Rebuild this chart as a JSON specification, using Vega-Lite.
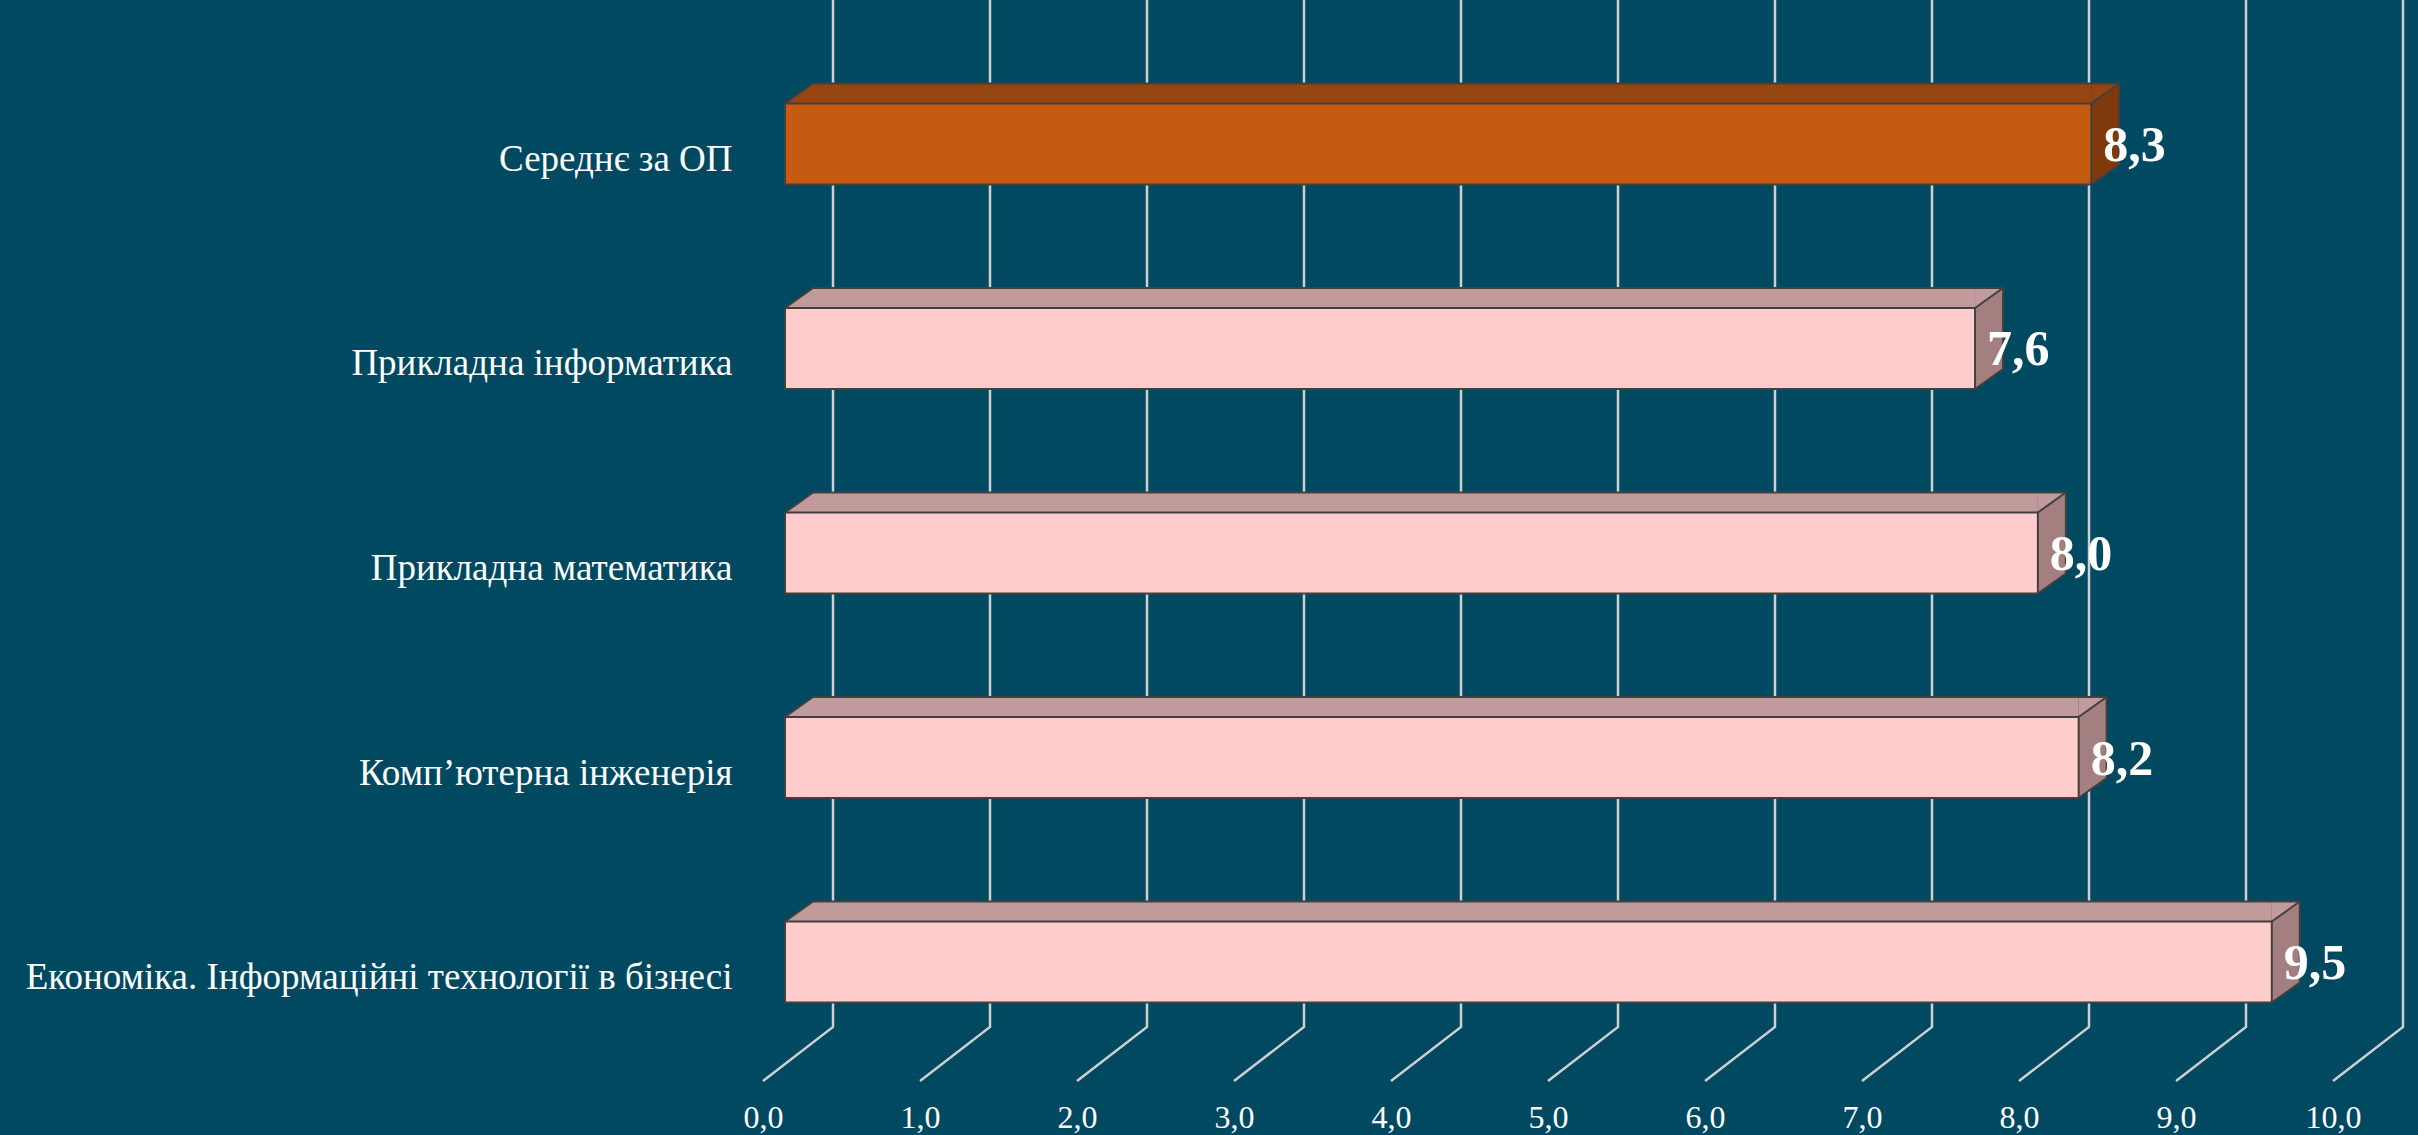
{
  "$schema": "https://vega.github.io/schema/vega-lite/v6.json",
  "width": 1570,
  "height": 1106,
  "autosize": {"type": "none"},
  "padding": {"left": 785, "right": 63, "top": 0, "bottom": 29},
  "background": "#014961",
  "config": {
    "view": {"stroke": null},
    "font": "Liberation Serif",
    "locale": {"number": {"decimal": ",", "thousands": " ", "grouping": [3], "currency": ["", ""]}},
    "axisY": {"labelFont": "Liberation Serif", "labelFontSize": 37, "labelColor": "#FFFFFF", "labelPadding": 53, "labelOffset": 16, "labelLimit": 1200, "domain": false, "ticks": false, "grid": false},
    "axisX": {"labelFont": "Liberation Serif", "labelFontSize": 32, "labelColor": "#FFFFFF", "labelPadding": 11, "labelOffset": -22, "labelBaseline": "middle", "labelFlush": false, "domain": false, "ticks": false, "grid": false}
  },
  "datasets": {
    "bars": [
      {"program": "Середнє за ОП", "value": 8.32},
      {"program": "Прикладна інформатика", "value": 7.58},
      {"program": "Прикладна математика", "value": 7.98},
      {"program": "Комп’ютерна  інженерія", "value": 8.24},
      {"program": "Економіка. Інформаційні технології в бізнесі", "value": 9.47}
    ],
    "grid": [{"v": 0}, {"v": 1}, {"v": 2}, {"v": 3}, {"v": 4}, {"v": 5}, {"v": 6}, {"v": 7}, {"v": 8}, {"v": 9}, {"v": 10}]
  },
  "layer": [
    {
      "data": {"name": "grid"},
      "mark": {"type": "point", "shape": "M48,-553L48,474L-22,528", "size": 4, "filled": false, "opacity": 1, "stroke": "#CFCFCF", "strokeWidth": 2.5},
      "encoding": {
        "x": {"field": "v", "type": "quantitative", "title": null,
          "scale": {"domain": [0, 10], "nice": false, "zero": true},
          "axis": {"values": [0, 1, 2, 3, 4, 5, 6, 7, 8, 9, 10], "format": ".1f"}}
      }
    },
    {
      "data": {"name": "bars"},
      "mark": {"type": "rule", "strokeWidth": 20, "strokeCap": "butt", "xOffset": 0, "x2Offset": 28, "yOffset": -50.5},
      "encoding": {
        "x": {"field": "value", "type": "quantitative", "title": null},
        "x2": {"datum": 0},
        "y": {"field": "program", "type": "nominal", "title": null, "sort": null},
        "stroke": {"condition": {"test": "datum.program === 'Середнє за ОП'", "value": "#974510"}, "value": "#C19B9B"}
      }
    },
    {
      "data": {"name": "bars"},
      "mark": {"type": "point", "shape": "M0,-40.5L28,-60.5L28,-40.5Z", "size": 4, "filled": true, "opacity": 1, "strokeWidth": 0},
      "encoding": {
        "x": {"datum": 0, "type": "quantitative", "title": null},
        "y": {"field": "program", "type": "nominal", "title": null, "sort": null},
        "fill": {"condition": {"test": "datum.program === 'Середнє за ОП'", "value": "#974510"}, "value": "#C19B9B"}
      }
    },
    {
      "data": {"name": "bars"},
      "mark": {"type": "point", "shape": "M0,-40.5L0,-60.5L28,-60.5Z", "size": 4, "filled": true, "opacity": 1, "strokeWidth": 0},
      "encoding": {
        "x": {"field": "value", "type": "quantitative", "title": null},
        "y": {"field": "program", "type": "nominal", "title": null, "sort": null},
        "fill": {"condition": {"test": "datum.program === 'Середнє за ОП'", "value": "#974510"}, "value": "#C19B9B"}
      }
    },
    {
      "data": {"name": "bars"},
      "mark": {"type": "point", "shape": "M0,-40.5L28,-60.5L28,20.5L0,40.5Z", "size": 4, "filled": true, "opacity": 1, "strokeWidth": 0},
      "encoding": {
        "x": {"field": "value", "type": "quantitative", "title": null},
        "y": {"field": "program", "type": "nominal", "title": null, "sort": null},
        "fill": {"condition": {"test": "datum.program === 'Середнє за ОП'", "value": "#7F390C"}, "value": "#A3807F"}
      }
    },
    {
      "data": {"name": "bars"},
      "mark": {"type": "bar", "stroke": "#404040", "strokeWidth": 2},
      "encoding": {
        "x": {"field": "value", "type": "quantitative", "title": null},
        "y": {"field": "program", "type": "nominal", "title": null, "sort": null,
          "scale": {"paddingInner": 0.604, "paddingOuter": 0.506}},
        "fill": {"condition": {"test": "datum.program === 'Середнє за ОП'", "value": "#C55A11"}, "value": "#FFCCCC"}
      }
    },
    {
      "data": {"name": "bars"},
      "mark": {"type": "point", "shape": "M0,-40.5L28,-60.5L28,20.5L0,40.5", "size": 4, "filled": false, "opacity": 1, "stroke": "#404040", "strokeWidth": 2},
      "encoding": {
        "x": {"field": "value", "type": "quantitative", "title": null},
        "y": {"field": "program", "type": "nominal", "title": null, "sort": null}
      }
    },
    {
      "data": {"name": "bars"},
      "mark": {"type": "point", "shape": "M0,-40.5L28,-60.5", "size": 4, "filled": false, "opacity": 1, "stroke": "#404040", "strokeWidth": 2},
      "encoding": {
        "x": {"datum": 0, "type": "quantitative", "title": null},
        "y": {"field": "program", "type": "nominal", "title": null, "sort": null}
      }
    },
    {
      "data": {"name": "bars"},
      "mark": {"type": "rule", "stroke": "#404040", "strokeWidth": 2, "xOffset": 28, "x2Offset": 28, "yOffset": -60.5},
      "encoding": {
        "x": {"field": "value", "type": "quantitative", "title": null},
        "x2": {"datum": 0},
        "y": {"field": "program", "type": "nominal", "title": null, "sort": null}
      }
    },
    {
      "data": {"name": "bars"},
      "mark": {"type": "text", "align": "left", "baseline": "middle", "dx": 12, "dy": 2, "fontSize": 50, "fontWeight": "bold", "font": "Liberation Serif", "fill": "#FFFFFF"},
      "encoding": {
        "x": {"field": "value", "type": "quantitative", "title": null},
        "y": {"field": "program", "type": "nominal", "title": null, "sort": null},
        "text": {"field": "value", "type": "quantitative", "format": ".1f"}
      }
    }
  ]
}
